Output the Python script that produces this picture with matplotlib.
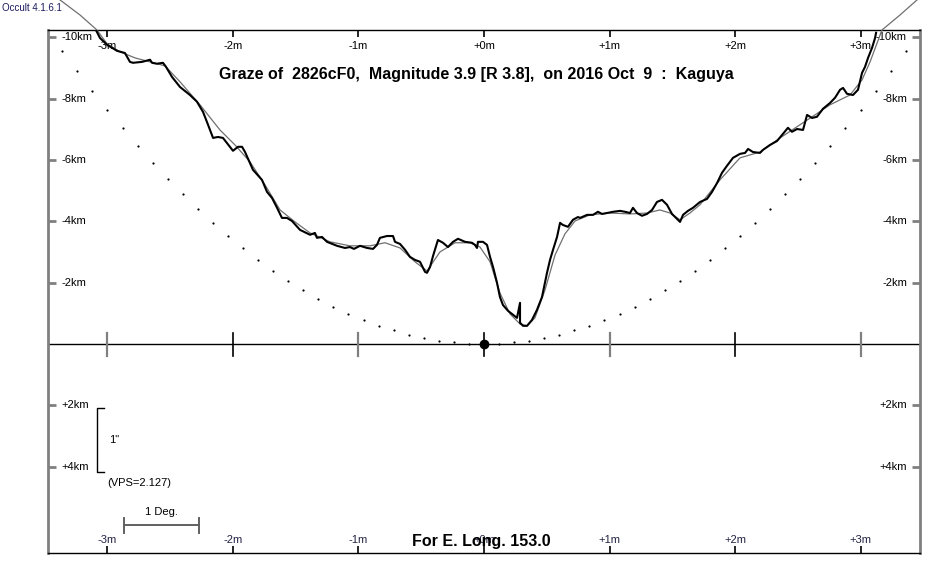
import matplotlib
matplotlib.use('Agg')
import matplotlib.pyplot as plt

plt.rcParams['font.family'] = ['Liberation Sans', 'DejaVu Sans']

# observed profile (minutes, km)
prof_t = [-3.092, -3.060, -3.004, -2.924, -2.861, -2.821, -2.797, -2.725, -2.661, -2.645,
          -2.606, -2.558, -2.534, -2.486, -2.422, -2.343, -2.287, -2.239, -2.199, -2.159,
          -2.120, -2.080, -2.024, -2.000, -1.960, -1.928, -1.904, -1.841, -1.769, -1.729,
          -1.689, -1.649, -1.610, -1.570, -1.530, -1.466, -1.386, -1.347, -1.331, -1.291,
          -1.251, -1.171, -1.108, -1.068, -1.036, -0.988, -0.932, -0.884, -0.853, -0.829,
          -0.773, -0.725, -0.709, -0.669, -0.629, -0.590, -0.550, -0.510, -0.470, -0.454,
          -0.430, -0.406, -0.367, -0.327, -0.287, -0.247, -0.207, -0.151, -0.096, -0.072,
          -0.056, -0.048, -0.008, 0.024, 0.048, 0.072, 0.104, 0.127, 0.151, 0.191,
          0.231, 0.263, 0.271, 0.287, 0.287, 0.311, 0.343, 0.382, 0.422, 0.462,
          0.502, 0.526, 0.550, 0.582, 0.606, 0.629, 0.669, 0.709, 0.749, 0.765,
          0.821, 0.869, 0.908, 0.940, 0.980, 1.028, 1.084, 1.124, 1.163, 1.187,
          1.219, 1.259, 1.299, 1.339, 1.378, 1.418, 1.458, 1.498, 1.538, 1.562,
          1.586, 1.625, 1.665, 1.721, 1.777, 1.817, 1.857, 1.896, 1.936, 1.984,
          2.040, 2.080, 2.104, 2.143, 2.199, 2.223, 2.279, 2.335, 2.375, 2.422,
          2.454, 2.494, 2.542, 2.574, 2.614, 2.653, 2.701, 2.757, 2.797, 2.837,
          2.861, 2.892, 2.940, 2.980, 3.012, 3.036, 3.060, 3.092, 3.116, 3.124]
prof_km = [-10.24, -9.98, -9.76, -9.56, -9.49, -9.20, -9.17, -9.20, -9.27, -9.17,
           -9.14, -9.17, -9.04, -8.71, -8.38, -8.12, -7.90, -7.57, -7.15, -6.72,
           -6.75, -6.72, -6.43, -6.30, -6.43, -6.43, -6.26, -5.68, -5.35, -4.96,
           -4.76, -4.44, -4.11, -4.11, -4.01, -3.72, -3.56, -3.62, -3.46, -3.49,
           -3.33, -3.20, -3.13, -3.16, -3.10, -3.20, -3.13, -3.10, -3.23, -3.46,
           -3.52, -3.52, -3.33, -3.26, -3.07, -2.84, -2.74, -2.68, -2.35, -2.32,
           -2.51, -2.87, -3.39, -3.30, -3.16, -3.33, -3.43, -3.33, -3.30, -3.23,
           -3.13, -3.33, -3.33, -3.23, -2.84, -2.51, -1.99, -1.53, -1.27, -1.08,
           -0.95, -0.85, -1.01, -1.34, -0.69, -0.59, -0.59, -0.78, -1.11, -1.53,
           -2.32, -2.74, -3.07, -3.49, -3.95, -3.88, -3.82, -4.05, -4.14, -4.11,
           -4.21, -4.21, -4.31, -4.24, -4.27, -4.31, -4.34, -4.31, -4.27, -4.44,
           -4.27, -4.18, -4.24, -4.37, -4.63, -4.70, -4.54, -4.24, -4.08, -3.98,
           -4.21, -4.34, -4.44, -4.63, -4.73, -4.96, -5.25, -5.58, -5.81, -6.07,
           -6.20, -6.23, -6.36, -6.26, -6.23, -6.33, -6.49, -6.62, -6.82, -7.05,
           -6.92, -7.01, -6.98, -7.47, -7.37, -7.41, -7.67, -7.86, -8.03, -8.29,
           -8.35, -8.16, -8.12, -8.29, -8.84, -9.04, -9.33, -9.66, -9.98, -10.15]

# smoothed limb profile (minutes, km)
limb_t = [-3.378, -3.219, -3.084, -3.004, -2.900, -2.781, -2.661, -2.542, -2.422, -2.263,
          -2.104, -1.984, -1.865, -1.745, -1.625, -1.506, -1.386, -1.227, -1.068, -0.908,
          -0.789, -0.669, -0.550, -0.454, -0.351, -0.231, -0.112, -0.032, 0.048, 0.127,
          0.207, 0.287, 0.343, 0.406, 0.486, 0.566, 0.645, 0.725, 0.845, 1.004,
          1.163, 1.299, 1.402, 1.482, 1.562, 1.641, 1.721, 1.880, 2.040, 2.199,
          2.359, 2.518, 2.637, 2.757, 2.916, 3.012, 3.076, 3.171, 3.315, 3.450]
limb_km = [-11.22, -10.73, -10.24, -9.79, -9.53, -9.33, -9.20, -9.07, -8.55, -7.80,
           -6.98, -6.49, -5.94, -5.19, -4.37, -3.98, -3.62, -3.33, -3.20, -3.20,
           -3.30, -3.13, -2.68, -2.38, -3.00, -3.30, -3.30, -3.16, -2.68, -1.66,
           -0.98, -0.65, -0.59, -0.85, -1.76, -2.90, -3.59, -4.01, -4.21, -4.27,
           -4.24, -4.27, -4.37, -4.27, -4.05, -4.27, -4.54, -5.35, -6.07, -6.26,
           -6.72, -7.15, -7.47, -7.80, -8.12, -8.61, -9.20, -10.24, -10.73, -11.22]

# dotted mean-limb reference
dot_t = [-3.36, -3.24, -3.12, -3.00, -2.88, -2.76, -2.64, -2.52, -2.40, -2.28,
         -2.16, -2.04, -1.92, -1.80, -1.68, -1.56, -1.44, -1.32, -1.20, -1.08,
         -0.96, -0.84, -0.72, -0.60, -0.48, -0.36, -0.24, -0.12, 0.00, 0.12,
         0.24, 0.36, 0.48, 0.60, 0.72, 0.84, 0.96, 1.08, 1.20, 1.32,
         1.44, 1.56, 1.68, 1.80, 1.92, 2.04, 2.16, 2.28, 2.40, 2.52,
         2.64, 2.76, 2.88, 3.00, 3.12, 3.24, 3.36]
dot_km = [-9.56, -8.89, -8.25, -7.62, -7.03, -6.45, -5.90, -5.38, -4.88, -4.40,
          -3.95, -3.52, -3.12, -2.74, -2.39, -2.06, -1.76, -1.48, -1.22, -0.99,
          -0.78, -0.60, -0.44, -0.30, -0.20, -0.11, -0.05, -0.01, 0.00, -0.01,
          -0.05, -0.11, -0.20, -0.30, -0.44, -0.60, -0.78, -0.99, -1.22, -1.48,
          -1.76, -2.06, -2.39, -2.74, -3.12, -3.52, -3.95, -4.40, -4.88, -5.38,
          -5.90, -6.45, -7.03, -7.62, -8.25, -8.89, -9.56]

minutes = [-3, -2, -1, 0, 1, 2, 3]
minute_labels = ['-3m', '-2m', '-1m', '+0m', '+1m', '+2m', '+3m']
km_ticks = [-10, -8, -6, -4, -2, 2, 4]
km_labels = ['-10km', '-8km', '-6km', '-4km', '-2km', '+2km', '+4km']

fig = plt.figure(figsize=(9.5, 5.8), dpi=100)
ax = fig.add_axes([48/950, 27/580, 872/950, 523/580])
ax.set_xlim(-3.474, 3.474)
ax.set_ylim(6.82, -10.24)

for s in ['top', 'bottom']:
    ax.spines[s].set_color('black')
    ax.spines[s].set_linewidth(1)
for s in ['left', 'right']:
    ax.spines[s].set_color('#808080')
    ax.spines[s].set_linewidth(2)

ax.set_xticks(minutes)
ax.set_yticks(km_ticks)
ax.tick_params(axis='x', top=True, bottom=True, direction='in', length=5,
               width=1.2, color='black', labelbottom=False, labeltop=False)
ax.tick_params(axis='y', left=True, right=True, direction='in', length=6,
               width=2, color='#808080', labelleft=False, labelright=False)

fs = 8
for t, lab in zip(minutes, minute_labels):
    ax.text(t, -9.72, lab, ha='center', va='center', fontsize=fs)
    ax.text(t, 6.38, lab, ha='center', va='center', fontsize=fs, color='#222244')
for k, lab in zip(km_ticks, km_labels):
    ax.text(-3.37, k, lab, ha='left', va='center', fontsize=fs)
    ax.text(3.37, k, lab, ha='right', va='center', fontsize=fs)

# zero line and minute marks on it
ax.axhline(0, color='black', lw=1)
for t in minutes:
    ax.plot([t, t], [-0.36, 0.39], color='black' if t % 2 == 0 else '#808080',
            lw=1.2 if t % 2 == 0 else 1.6)

ax.plot(dot_t, dot_km, ls='none', marker='o', ms=1.6, color='black', mew=0)
ax.plot(limb_t, limb_km, color='#707070', lw=0.9, clip_on=False, zorder=3)
ax.plot(prof_t, prof_km, color='black', lw=1.5, zorder=4)
ax.plot([0], [0], marker='o', ms=6, color='black', zorder=5)

# scale bars
ax.plot([-3.028, -3.084, -3.084, -3.028], [2.09, 2.09, 4.18, 4.18], color='black', lw=1)
ax.text(-2.99, 3.13, '1"', ha='left', va='center', fontsize=fs)
ax.text(-3.0, 4.54, '(VPS=2.127)', ha='left', va='center', fontsize=fs)
ax.plot([-2.869, -2.271], [5.91, 5.91], color='#606060', lw=1.4)
ax.plot([-2.869, -2.869], [5.68, 6.17], color='#606060', lw=1.4)
ax.plot([-2.271, -2.271], [5.68, 6.17], color='#606060', lw=1.4)
ax.text(-2.57, 5.48, '1 Deg.', ha='center', va='center', fontsize=fs)

ax.text(-0.06, -8.8, 'Graze of  2826cF0,  Magnitude 3.9 [R 3.8],  on 2016 Oct  9  :  Kaguya',
        ha='center', va='center', fontsize=11.5, fontweight='bold')
ax.text(-0.02, 6.45, 'For E. Long. 153.0', ha='center', va='center', fontsize=11.5,
        fontweight='bold')
fig.text(2/950, 1 - 8/580, 'Occult 4.1.6.1', ha='left', va='center', fontsize=7,
         color='#1a1a5e')

fig.savefig('out.png', dpi=100)
